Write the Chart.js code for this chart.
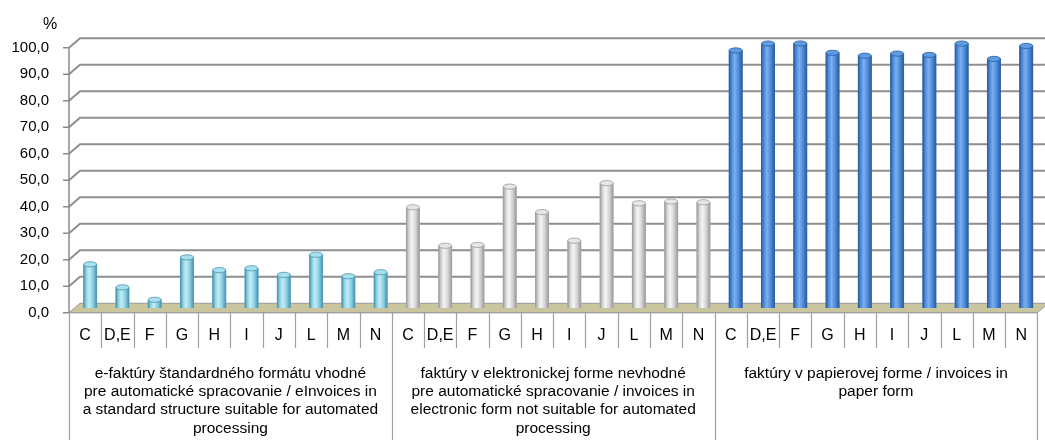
<!DOCTYPE html>
<html>
<head>
<meta charset="utf-8">
<script src="https://cdn.jsdelivr.net/npm/chart.js@4"></script>
<style>
  html, body { margin: 0; padding: 0; background: #fff; overflow: hidden; }
  #wrap { width: 1045px; height: 446px; position: relative; }
</style>
</head>
<body>
<div id="wrap"><canvas id="myChart"></canvas></div>
<script>
// data (%)
var categories = ['C', 'D,E', 'F', 'G', 'H', 'I', 'J', 'L', 'M', 'N'];
var eInvoices = [16.5, 7.8, 3.1, 19.1, 14.3, 15.0, 12.5, 20.1, 12.0, 13.5];
var electronicOther = [38.0, 23.5, 23.8, 45.8, 36.2, 25.4, 47.1, 39.5, 40.2, 39.9];
var paperInvoices = [97.2, 99.8, 99.8, 96.3, 95.2, 96.0, 95.5, 99.8, 94.0, 98.9];
var groupLabels = [
    ['e-faktúry štandardného formátu vhodné', 'pre automatické spracovanie / eInvoices in', 'a standard structure suitable for automated', 'processing'],
    ['faktúry v elektronickej forme nevhodné', 'pre automatické spracovanie / invoices in', 'electronic form not suitable for automated', 'processing'],
    ['faktúry v papierovej forme / invoices in', 'paper form']
];
var yMin = 0, yMax = 100, yStep = 10;

// colours per group: [edge, main, highlight, cap]
var groupColors = [
    ['#4796b0', '#8fd2e4', '#c4ecf6', '#a9e0ee'],
    ['#9c9c9c', '#d6d6d6', '#f5f5f5', '#e6e6e6'],
    ['#2c5d9e', '#4f8ddb', '#7cb0ee', '#5f9be2']
];

var labels = categories.concat(categories, categories);
var values = eInvoices.concat(electronicOther, paperInvoices);
var barColors = labels.map(function (l, i) { return groupColors[Math.floor(i / 10)][1]; });

var DEPTH_X = 11, DEPTH_Y = 4.7, SHIFT = 5;
var fontFam = "'Liberation Sans', Arial, sans-serif";

var wallPlugin = {
    id: 'wall',
    beforeDatasetsDraw: function (chart) {
        var c = chart.ctx, ys = chart.scales.y, a = chart.chartArea;
        var L = a.left, R = a.right;
        var y0 = ys.getPixelForValue(0);
        c.save();
        // floor
        c.beginPath();
        c.moveTo(L, y0 + DEPTH_Y);
        c.lineTo(L + DEPTH_X, y0 - DEPTH_Y);
        c.lineTo(R + DEPTH_X, y0 - DEPTH_Y);
        c.lineTo(R, y0 + DEPTH_Y);
        c.closePath();
        c.fillStyle = '#c8c59f';
        c.fill();
        c.strokeStyle = '#9a9a9a';
        c.lineWidth = 1;
        c.stroke();
        // grid lines on the back wall
        c.strokeStyle = '#8f8f8f';
        c.lineWidth = 2;
        for (var v = yMin + yStep; v <= yMax; v += yStep) {
            var y = ys.getPixelForValue(v);
            c.beginPath();
            c.moveTo(L, y + DEPTH_Y);
            c.lineTo(L + DEPTH_X, y - DEPTH_Y);
            c.lineTo(R + DEPTH_X, y - DEPTH_Y);
            c.stroke();
        }
        // front value axis with ticks
        c.lineWidth = 1.5;
        c.strokeStyle = '#8a8a8a';
        c.beginPath();
        c.moveTo(L, ys.getPixelForValue(yMax) + DEPTH_Y);
        c.lineTo(L, y0 + DEPTH_Y);
        for (var t = yMin; t <= yMax; t += yStep) {
            var ty = ys.getPixelForValue(t) + DEPTH_Y;
            c.moveTo(L - 6, ty);
            c.lineTo(L, ty);
        }
        c.stroke();
        c.restore();
        c.save();
        c.translate(SHIFT, 0);
    },
    afterDatasetsDraw: function (chart) {
        var c = chart.ctx;
        var meta = chart.getDatasetMeta(0);
        meta.data.forEach(function (el, i) {
            var p = el.getProps(['x', 'y', 'base', 'width'], true);
            var col = groupColors[Math.floor(i / 10)];
            var w = p.width, x0 = p.x - w / 2;
            var g = c.createLinearGradient(x0, 0, x0 + w, 0);
            g.addColorStop(0, col[0]);
            g.addColorStop(0.2, col[1]);
            g.addColorStop(0.42, col[2]);
            g.addColorStop(0.7, col[1]);
            g.addColorStop(1, col[0]);
            c.fillStyle = g;
            c.fillRect(x0, p.y, w, p.base - p.y);
            c.strokeStyle = col[0];
            c.lineWidth = 0.8;
            c.beginPath();
            c.moveTo(x0, p.y);
            c.lineTo(x0, p.base);
            c.moveTo(x0 + w, p.y);
            c.lineTo(x0 + w, p.base);
            c.stroke();
            c.beginPath();
            c.ellipse(p.x, p.y, w / 2, 2.6, 0, 0, Math.PI * 2);
            c.fillStyle = col[3];
            c.fill();
            c.stroke();
        });
        c.restore();
    },
    afterDraw: function (chart) {
        var c = chart.ctx, xs = chart.scales.x, ys = chart.scales.y;
        var front = ys.getPixelForValue(0) + DEPTH_Y;
        var n = labels.length;
        var w = (xs.right - xs.left) / n;
        c.save();
        c.strokeStyle = '#a0a0a0';
        c.lineWidth = 1.2;
        c.beginPath();
        c.moveTo(xs.left, front);
        c.lineTo(xs.right, front);
        for (var i = 0; i <= n; i++) {
            var bx = Math.round(xs.left + i * w) + 0.5;
            c.moveTo(bx, front);
            c.lineTo(bx, i % 10 === 0 ? chart.height : xs.bottom);
        }
        c.stroke();
        // unit label above the value axis
        c.fillStyle = '#000';
        c.font = '16px ' + fontFam;
        c.textAlign = 'left';
        c.textBaseline = 'middle';
        c.fillText('%', 43, 25);
        c.restore();
    }
};

var ctx = document.getElementById('myChart').getContext('2d');
Chart.defaults.font.family = fontFam;
Chart.defaults.font.size = 16;
Chart.defaults.color = '#000';

var myChart = new Chart(ctx, {
    type: 'bar',
    data: {
        labels: labels,
        datasets: [{
            label: '%',
            data: values,
            backgroundColor: barColors,
            barThickness: 13
        }]
    },
    options: {
        responsive: true,
        maintainAspectRatio: false,
        animation: false,
        layout: { padding: { left: 4, right: 1, top: 43, bottom: 0 } },
        plugins: {
            legend: { display: false },
            tooltip: { enabled: false },
            title: { display: false }
        },
        scales: {
            y: {
                min: yMin,
                max: yMax,
                grid: { display: false, drawTicks: false },
                border: { display: false },
                ticks: {
                    stepSize: yStep,
                    padding: 20,
                    labelOffset: DEPTH_Y,
                    font: { size: 15 },
                    callback: function (v) { return v.toFixed(1).replace('.', ','); }
                },
                afterFit: function (s) { s.width = 65; }
            },
            x: {
                grid: { display: false, drawTicks: false },
                border: { display: false },
                ticks: { autoSkip: false, maxRotation: 0, padding: 18, font: { size: 16 } },
                afterFit: function (s) { s.height = 40; }
            },
            xg: {
                type: 'category',
                position: 'bottom',
                labels: groupLabels,
                offset: true,
                grid: { display: false, drawTicks: false },
                border: { display: false },
                ticks: { autoSkip: false, maxRotation: 0, padding: 16, font: { size: 15.5, lineHeight: 1.19 } },
                afterFit: function (s) { s.height = 98; }
            }
        }
    },
    plugins: [wallPlugin]
});
</script>
</body>
</html>
